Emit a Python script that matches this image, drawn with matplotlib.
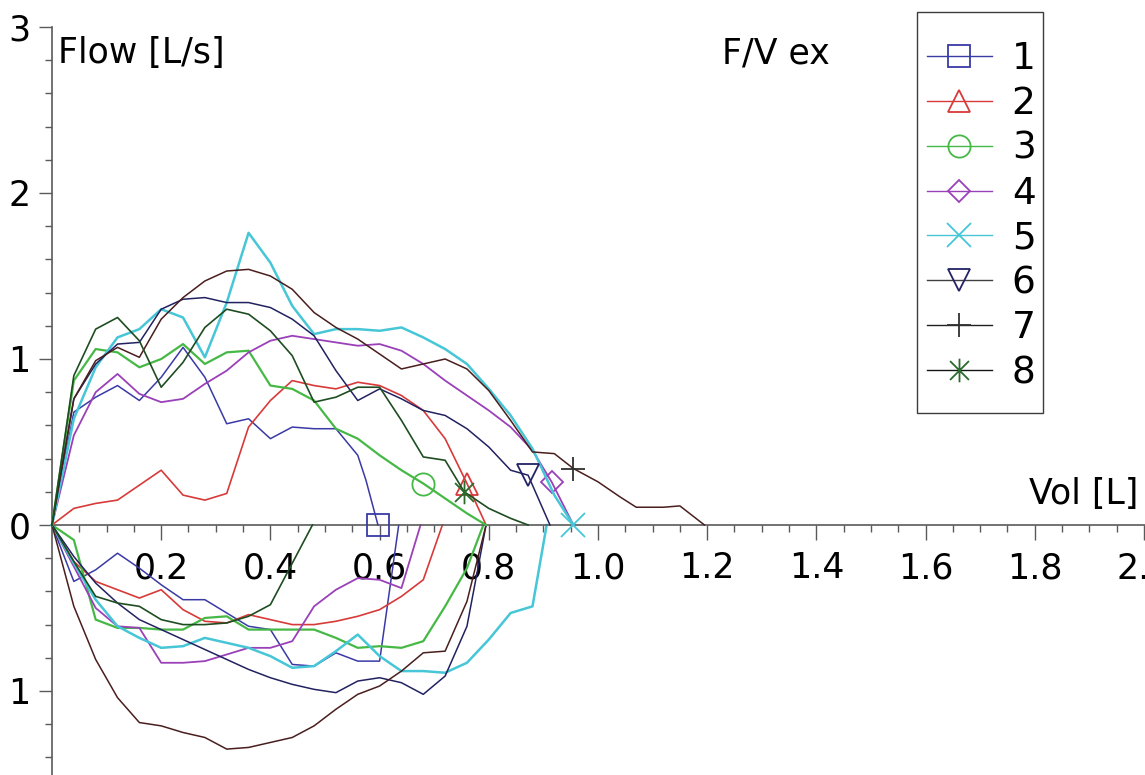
import matplotlib
matplotlib.use("Agg")
import matplotlib.pyplot as plt
from matplotlib.path import Path
from matplotlib.lines import Line2D
from matplotlib.patches import Rectangle

# ---------------- data (volume in L, flow in L/s) ----------------
series_names = ["1", "2", "3", "4", "5", "6", "7", "8"]

ex_vol_1 = [0, .04, .08, .12, .16, .20, .24, .28, .32, .36, .40, .44, .48, .52, .56, .575, .597]
ex_flow_1 = [0, .68, .77, .84, .75, .89, 1.07, .89, .61, .64, .52, .59, .58, .58, .42, .27, 0]
in_vol_1 = [0, .04, .08, .12, .16, .20, .24, .28, .32, .36, .40, .44, .48, .52, .56, .60, .635]
in_flow_1 = [0, -.34, -.27, -.17, -.26, -.36, -.45, -.45, -.53, -.61, -.63, -.84, -.85, -.77, -.82, -.82, 0]

ex_vol_2 = [0, .04, .08, .12, .16, .20, .24, .28, .32, .36, .40, .44, .48, .52, .56, .60, .64, .68, .72, .76, .795]
ex_flow_2 = [0, .10, .13, .15, .24, .33, .18, .15, .19, .59, .75, .87, .84, .82, .86, .84, .78, .69, .52, .25, 0]
in_vol_2 = [0, .04, .08, .12, .16, .20, .24, .28, .32, .36, .40, .44, .48, .52, .56, .60, .64, .68, .715]
in_flow_2 = [0, -.22, -.34, -.39, -.44, -.39, -.51, -.58, -.59, -.54, -.57, -.60, -.60, -.58, -.55, -.51, -.43, -.33, 0]

ex_vol_3 = [0, .04, .08, .12, .16, .20, .24, .28, .32, .36, .40, .44, .48, .52, .56, .60, .64, .68, .72, .76, .795]
ex_flow_3 = [0, .87, 1.06, 1.04, .95, 1.00, 1.09, .97, 1.04, 1.05, .84, .82, .75, .58, .52, .42, .33, .25, .16, .07, 0]
in_vol_3 = [0, .04, .08, .12, .16, .20, .24, .28, .32, .36, .40, .44, .48, .52, .56, .60, .64, .68, .72, .76, .79]
in_flow_3 = [0, -.09, -.57, -.62, -.62, -.63, -.63, -.56, -.55, -.63, -.63, -.63, -.63, -.68, -.74, -.73, -.74, -.70, -.49, -.26, 0]

ex_vol_4 = [0, .04, .08, .12, .16, .20, .24, .28, .32, .36, .40, .44, .48, .52, .56, .60, .64, .68, .72, .76, .80, .84, .88, .915, .955]
ex_flow_4 = [0, .54, .80, .91, .79, .74, .76, .85, .93, 1.04, 1.11, 1.14, 1.12, 1.10, 1.08, 1.09, 1.05, .97, .87, .78, .69, .59, .45, .26, 0]
in_vol_4 = [0, .04, .08, .12, .16, .20, .24, .28, .32, .36, .40, .44, .48, .52, .56, .60, .64, .675]
in_flow_4 = [0, -.25, -.50, -.61, -.62, -.83, -.83, -.82, -.78, -.74, -.74, -.70, -.49, -.39, -.32, -.33, -.38, 0]

ex_vol_5 = [0, .04, .08, .12, .16, .20, .24, .28, .32, .36, .40, .44, .48, .52, .56, .60, .64, .68, .72, .76, .80, .84, .88, .92, .955]
ex_flow_5 = [0, .64, .95, 1.13, 1.18, 1.30, 1.25, 1.01, 1.34, 1.76, 1.58, 1.32, 1.15, 1.18, 1.18, 1.17, 1.19, 1.13, 1.06, .97, .82, .66, .46, .18, 0]
in_vol_5 = [0, .04, .08, .12, .16, .20, .24, .28, .32, .36, .40, .44, .48, .52, .56, .60, .64, .68, .72, .76, .80, .84, .88, .906]
in_flow_5 = [0, -.23, -.45, -.61, -.68, -.74, -.73, -.68, -.71, -.74, -.79, -.86, -.85, -.76, -.66, -.79, -.88, -.88, -.89, -.83, -.69, -.53, -.49, 0]

ex_vol_6 = [0, .04, .08, .12, .16, .20, .24, .28, .32, .36, .40, .44, .48, .52, .56, .60, .64, .68, .72, .76, .80, .84, .872, .912]
ex_flow_6 = [0, .76, .97, 1.09, 1.10, 1.30, 1.36, 1.37, 1.34, 1.34, 1.31, 1.24, 1.14, .93, .75, .82, .76, .69, .66, .58, .47, .33, .30, 0]
in_vol_6 = [0, .04, .08, .12, .16, .20, .24, .28, .32, .36, .40, .44, .48, .52, .56, .60, .64, .68, .72, .76, .795]
in_flow_6 = [0, -.19, -.35, -.47, -.57, -.63, -.69, -.75, -.81, -.87, -.92, -.96, -.99, -1.01, -.94, -.92, -.95, -1.02, -.91, -.61, 0]

ex_vol_7 = [0, .04, .08, .12, .16, .20, .24, .28, .32, .36, .40, .44, .48, .52, .56, .60, .64, .68, .72, .76, .80, .84, .88, .92, .955, 1.00, 1.04, 1.07, 1.12, 1.15, 1.195]
ex_flow_7 = [0, .76, .99, 1.07, 1.01, 1.24, 1.37, 1.47, 1.53, 1.54, 1.50, 1.42, 1.28, 1.19, 1.12, 1.03, .94, .97, 1.00, .94, .81, .63, .44, .43, .34, .26, .17, .107, .107, .115, 0]
in_vol_7 = [0, .04, .08, .12, .16, .20, .24, .28, .32, .36, .40, .44, .48, .52, .56, .60, .64, .68, .72, .76, .795]
in_flow_7 = [0, -.49, -.81, -1.04, -1.19, -1.21, -1.25, -1.28, -1.35, -1.34, -1.31, -1.28, -1.21, -1.11, -1.02, -.97, -.88, -.77, -.76, -.46, 0]

ex_vol_8 = [0, .04, .08, .12, .16, .20, .24, .28, .32, .36, .40, .44, .48, .52, .56, .60, .64, .68, .72, .755, .80, .84, .872]
ex_flow_8 = [0, .90, 1.18, 1.25, 1.11, .83, .98, 1.19, 1.30, 1.27, 1.17, 1.02, .74, .77, .83, .83, .63, .41, .39, .20, .10, .04, 0]
in_vol_8 = [0, .04, .08, .12, .16, .20, .24, .28, .32, .36, .40, .477]
in_flow_8 = [0, -.22, -.43, -.47, -.49, -.57, -.60, -.60, -.59, -.55, -.48, 0]

# index of the marked point on each expiratory curve
marker_index = [16, 19, 17, 23, 24, 22, 24, 19]

x_major_ticks = [0.2, 0.4, 0.6, 0.8, 1.0, 1.2, 1.4, 1.6, 1.8, 2.0]
x_major_labels = ["0.2", "0.4", "0.6", "0.8", "1.0", "1.2", "1.4", "1.6", "1.8", "2.0"]
y_major_ticks = [-1, 0, 1, 2, 3]
y_major_labels = ["1", "0", "1", "2", "3"]

# ---------------- styles ----------------
line_colors = ["#3a3aa6", "#d83a3a", "#46b846", "#9a40b8", "#46c6d6", "#222260", "#4a1e1e", "#1f4d22"]
line_widths = [1.1, 1.2, 1.6, 1.3, 1.8, 1.1, 1.1, 1.2]
legend_line_colors = ["#3a3aa6", "#d83a3a", "#46b846", "#9a40b8", "#46c6d6", "#404040", "#202020", "#151515"]
marker_colors = ["#3a3aa6", "#d83a3a", "#46b846", "#9a40b8", "#46c6d6", "#222266", "#303030", "#2a6a2a"]

asterisk = Path([(0, -1), (0, 1), (-0.8, -0.8), (0.8, 0.8), (-0.8, 0.8), (0.8, -0.8)],
                [Path.MOVETO, Path.LINETO, Path.MOVETO, Path.LINETO, Path.MOVETO, Path.LINETO])
markers = ["s", "^", "o", "D", "x", "v", "+", asterisk]
marker_sizes = [16, 16, 16, 11.5, 17, 16, 17, 17]

ex_vols = [ex_vol_1, ex_vol_2, ex_vol_3, ex_vol_4, ex_vol_5, ex_vol_6, ex_vol_7, ex_vol_8]
ex_flows = [ex_flow_1, ex_flow_2, ex_flow_3, ex_flow_4, ex_flow_5, ex_flow_6, ex_flow_7, ex_flow_8]
in_vols = [in_vol_1, in_vol_2, in_vol_3, in_vol_4, in_vol_5, in_vol_6, in_vol_7, in_vol_8]
in_flows = [in_flow_1, in_flow_2, in_flow_3, in_flow_4, in_flow_5, in_flow_6, in_flow_7, in_flow_8]

# ---------------- figure / axes geometry ----------------
W, H, DPI = 1145, 775, 100
PX_PER_L = 546.0      # pixels per litre
PX_PER_LS = 166.0     # pixels per L/s
X0_PX = 52.0          # x pixel of volume 0
Y0_PX = 525.0         # y pixel (from top) of flow 0

plt.rcParams["font.family"] = ["DejaVu Sans"]
fig = plt.figure(figsize=(W / DPI, H / DPI), dpi=DPI)
xmin = -X0_PX / PX_PER_L
xmax = 2.12
ymin = -(H - Y0_PX) / PX_PER_LS
ymax = Y0_PX / PX_PER_LS
ax_w = (xmax - xmin) * PX_PER_L / W
ax = fig.add_axes([0, 0, ax_w, 1])
ax.set_xlim(xmin, xmax)
ax.set_ylim(ymin, ymax)
ax.patch.set_visible(False)

spine_col = "#5a5a5a"
for s in ["top", "right"]:
    ax.spines[s].set_visible(False)
ax.spines["left"].set_position(("data", 0))
ax.spines["bottom"].set_position(("data", 0))
ax.spines["left"].set_bounds(ymin, 3)
ax.spines["bottom"].set_bounds(0, xmax)
for s in ["left", "bottom"]:
    ax.spines[s].set_color(spine_col)
    ax.spines[s].set_linewidth(1.2)

ax.set_xticks(x_major_ticks)
ax.set_xticklabels(x_major_labels)
x_minor = [round(0.05 * i, 2) for i in range(1, 43) if i % 4 != 0]
ax.set_xticks(x_minor, minor=True)
ax.set_yticks(y_major_ticks)
ax.set_yticklabels(y_major_labels)
y_minor = [round(0.2 * i, 1) for i in range(-7, 15) if i % 5 != 0]
ax.set_yticks(y_minor, minor=True)

ax.tick_params(axis="x", which="major", direction="out", length=10.8, width=1.0,
               color=spine_col, pad=8, labelsize=25)
ax.tick_params(axis="x", which="minor", direction="out", length=5, width=1.0, color=spine_col)
ax.tick_params(axis="y", which="major", direction="out", length=9.4, width=1.0,
               color=spine_col, pad=6, labelsize=25)
ax.tick_params(axis="y", which="minor", direction="out", length=5, width=1.0, color=spine_col)

# ---------------- curves ----------------
for i in range(8):
    ax.plot(in_vols[i], in_flows[i], color=line_colors[i], lw=line_widths[i], zorder=2 + i * 0.1)
    ax.plot(ex_vols[i], ex_flows[i], color=line_colors[i], lw=line_widths[i],
            marker=markers[i], markevery=[marker_index[i]], ms=marker_sizes[i],
            mfc="none", mec=marker_colors[i], mew=1.3, zorder=3 + i * 0.1)

# ---------------- texts ----------------
ax.text(0.011, 2.783, "Flow [L/s]", fontsize=25, ha="left", va="baseline")
ax.text(1.227, 2.783, "F/V ex", fontsize=25, ha="left", va="baseline")
ax.text(1.99, 0.125, "Vol [L]", fontsize=25, ha="right", va="baseline")

# ---------------- legend ----------------
frame = Rectangle((917 / W, 1 - 413 / H), 126 / W, 401 / H, transform=fig.transFigure,
                  facecolor="white", edgecolor="#3c3c3c", lw=1.0, zorder=5)
fig.add_artist(frame)
handles = [Line2D([], [], color=legend_line_colors[i], lw=1.0, marker=markers[i],
                  ms=marker_sizes[i], mfc="none", mec=marker_colors[i], mew=1.3)
           for i in range(8)]
leg = fig.legend(handles, series_names, loc="upper left",
                 bbox_to_anchor=(927 / W, 1 - 41 / H), bbox_transform=fig.transFigure,
                 frameon=False, fontsize=27, borderpad=0, borderaxespad=0,
                 handlelength=1.73, handletextpad=0.53, labelspacing=0.237)
leg.set_zorder(6)

fig.savefig("out.png", dpi=DPI)
